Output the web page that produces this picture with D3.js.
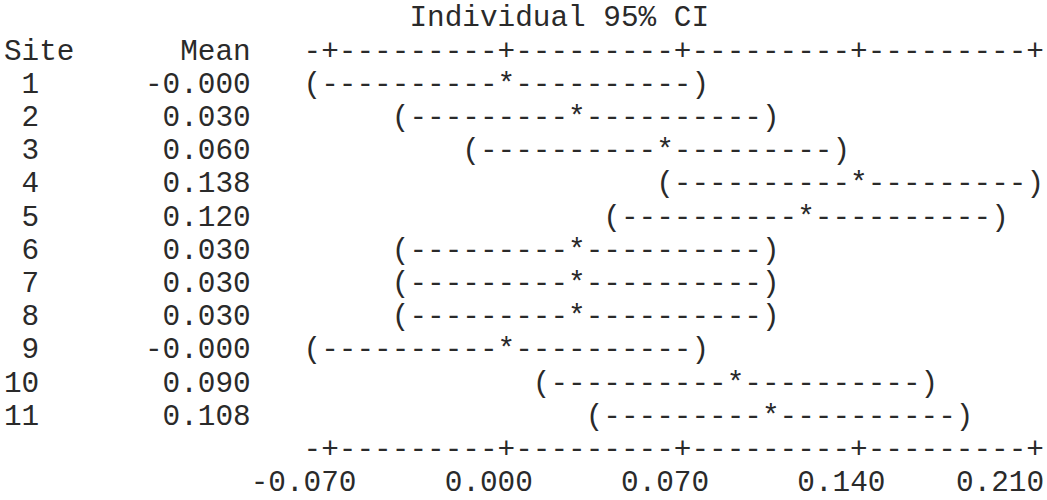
<!DOCTYPE html>
<meta charset="utf-8">

<!-- Load d3.js -->
<script src="https://d3js.org/d3.v7.min.js"></script>

<style>
  body {
    margin: 0;
    background: #fff;
  }
  svg text {
    font-family: "Liberation Mono", "DejaVu Sans Mono", monospace;
    font-size: 29.38px;
    fill: #2a2a2a;
    white-space: pre;
  }
</style>

<div id="chart"></div>

<script>

  // data
  var sites = ["1", "2", "3", "4", "5", "6", "7", "8", "9", "10", "11"];
  var means = [-0.000, 0.030, 0.060, 0.138, 0.120, 0.030, 0.030, 0.030, -0.000, 0.090, 0.108];
  var lower = [-0.075, -0.045, -0.015, 0.063, 0.045, -0.045, -0.045, -0.045, -0.075, 0.015, 0.033];
  var upper = [0.075, 0.105, 0.135, 0.213, 0.195, 0.105, 0.105, 0.105, 0.075, 0.165, 0.183];
  var tickValues = [-0.070, 0.000, 0.070, 0.140, 0.210];

  var width = 1047, height = 500;

  // character grid: column width, line height, origin
  var cw = 17.63, lineH = 33.2, x0 = 3.9, y0 = 26.3;
  var axisCol = 17;     // column where the "-+---" line starts
  var axisLen = 42;     // characters in the axis line

  // value -> character column
  var col = d3.scaleLinear()
    .domain([tickValues[0], tickValues[tickValues.length - 1]])
    .range([axisCol + 1, axisCol + axisLen - 1]);

  function cx(c) { return x0 + c * cw; }
  function cy(line) { return y0 + line * lineH; }
  function fmt(v) { return (v < 0 || Object.is(v, -0) ? "-" : "") + Math.abs(v).toFixed(3); }
  function repeat(ch, n) { var s = ""; for (var i = 0; i < n; i++) s += ch; return s; }

  var svg = d3.select("#chart")
    .append("svg")
      .attr("width", width)
      .attr("height", height);

  var tickCols = tickValues.map(function(v) { return Math.round(col(v)); });

  function axisLine() {
    var s = "";
    for (var c = axisCol; c < axisCol + axisLen; c++) s += tickCols.indexOf(c) >= 0 ? "+" : "-";
    return s;
  }

  // title
  svg.append("text")
    .attr("x", cx(axisCol + 6))
    .attr("y", cy(0))
    .text("Individual 95% CI");

  // header
  svg.append("text")
    .attr("x", cx(0))
    .attr("y", cy(1))
    .text("Site");
  svg.append("text")
    .attr("x", cx(axisCol - 3))
    .attr("y", cy(1))
    .attr("text-anchor", "end")
    .text("Mean");
  svg.append("text")
    .attr("x", cx(axisCol))
    .attr("y", cy(1))
    .text(axisLine());

  // one row per site
  var rows = svg.selectAll("g.row")
    .data(sites)
    .enter()
    .append("g")
      .attr("class", "row");

  rows.append("text")
    .attr("x", cx(2))
    .attr("y", function(d, i) { return cy(2 + i); })
    .attr("text-anchor", "end")
    .text(function(d) { return d; });

  rows.append("text")
    .attr("x", cx(axisCol - 3))
    .attr("y", function(d, i) { return cy(2 + i); })
    .attr("text-anchor", "end")
    .text(function(d, i) { return fmt(means[i]); });

  rows.append("text")
    .attr("x", function(d, i) { return cx(Math.round(col(lower[i]))); })
    .attr("y", function(d, i) { return cy(2 + i); })
    .text(function(d, i) {
      var lo = Math.round(col(lower[i])),
          m = Math.round(col(means[i])),
          hi = Math.round(col(upper[i]));
      return "(" + repeat("-", m - lo - 1) + "*" + repeat("-", hi - m - 1) + ")";
    });

  // bottom axis and its labels
  var lastLine = 2 + sites.length;
  svg.append("text")
    .attr("x", cx(axisCol))
    .attr("y", cy(lastLine))
    .text(axisLine());

  svg.selectAll("text.tick")
    .data(tickValues)
    .enter()
    .append("text")
      .attr("class", "tick")
      .attr("x", function(d, i) { return cx(Math.min(tickCols[i] + 1, axisCol + axisLen - 1) + 1); })
      .attr("y", cy(lastLine + 1))
      .attr("text-anchor", "end")
      .text(function(d) { return d.toFixed(3); });

</script>
